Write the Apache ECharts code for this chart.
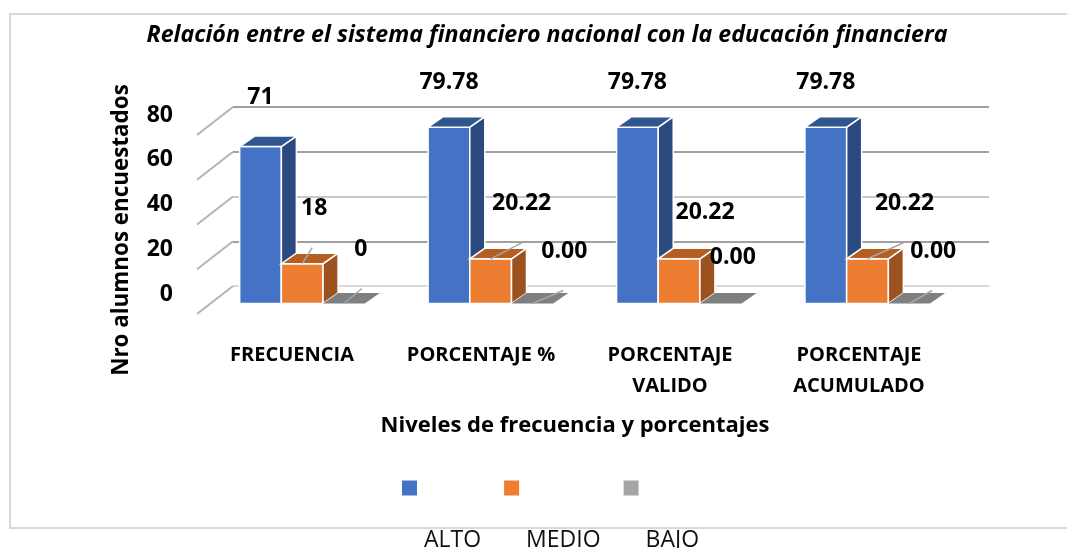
<!DOCTYPE html>
<html>
<head>
<meta charset="utf-8">
<style>html,body{margin:0;padding:0;background:#fff}#c{width:1067px;height:548px}</style>
<script src="https://cdn.jsdelivr.net/npm/echarts@6/dist/echarts.min.js"></script>
</head>
<body>
<div id="c"></div>
<script>
// ---- data ----
const categories = ['FRECUENCIA', 'PORCENTAJE %', 'PORCENTAJE\nVALIDO', 'PORCENTAJE\nACUMULADO'];
const alto = [71, 79.78, 79.78, 79.78];
const medio = [18, 20.22, 20.22, 20.22];
const bajo = [0, 0, 0, 0];
const yTicks = [0, 20, 40, 60, 80];
const seriesNames = ['ALTO', 'MEDIO', 'BAJO'];
const titleText = 'Relación entre el sistema financiero nacional con la educación financiera';
const xName = 'Niveles de frecuencia y porcentajes';
const yName = 'Nro alumnos encuestados';

// ---- look ----
const FONT = '"Open Sans"';
const palette = [
  {front: '#4472c4', side: '#2a4a80', top: '#30568f'},
  {front: '#ed7d31', side: '#9c521f', top: '#b45e22'},
  {front: '#a5a5a5', side: '#7f7f7f', top: '#7f7f7f'}
];
const BAR_RATIO = 0.2206;
const WALL_DX = -36, WALL_DY = 28;
const FRONT_DX = -25, FRONT_DY = 17.5, FRONT_SCALE = 0.988, FRONT_X_SCALE = 0.997;
const SIDE_DX = 15, SIDE_DY = -10.5;
// label placement, pixels from each bar's front-top centre
const labelNudges = [
  [[0, -49], [0, -45], [0, -45], [0, -45]],
  [[12, -55], [31, -55], [26, -46], [37, -55]],
  [[17, -54], [32, -52], [12, -46], [24, -52]]
];
const leaderEnds = [
  [null, null, null, null],
  [[10, -16], [31, -16], null, [36, -16]],
  [[18, -15], [31, -13], null, [23, -13]]
];

function barRender(si) {
  return function (params, api) {
    const i = params.dataIndex;
    const v = api.value(1);
    const band = api.size([1, 0])[0];
    const w = band * BAR_RATIO;
    const top = api.coord([api.value(0), v]);
    const base = api.coord([api.value(0), 0]);
    const left = params.coordSys.x;
    const x0 = left + (base[0] - left) * FRONT_X_SCALE + FRONT_DX + (si - 1.5) * w;
    const x1 = x0 + w;
    const yb = base[1] + FRONT_DY;
    const yt = yb - (base[1] - top[1]) * FRONT_SCALE;
    const p = palette[si];
    const edge = {stroke: '#fff', lineWidth: 1.5};
    const children = [];
    const poly = (pts, fill, st) => ({type: 'polygon', shape: {points: pts}, style: Object.assign({fill}, st)});
    if (v > 0) {
      children.push(poly([[x0, yb], [x1, yb], [x1, yt], [x0, yt]], p.front, edge));
      children.push(poly([[x1, yb], [x1 + SIDE_DX, yb + SIDE_DY], [x1 + SIDE_DX, yt + SIDE_DY], [x1, yt]], p.side, edge));
      children.push(poly([[x0, yt], [x1, yt], [x1 + SIDE_DX, yt + SIDE_DY], [x0 + SIDE_DX, yt + SIDE_DY]], p.top, edge));
    } else {
      children.push(poly([[x0, yt], [x1, yt], [x1 + SIDE_DX, yt + SIDE_DY], [x0 + SIDE_DX, yt + SIDE_DY]], p.top, {}));
    }
    const ax = (x0 + x1) / 2;
    const end = leaderEnds[si][i];
    if (end) {
      children.push({type: 'line', shape: {x1: ax, y1: yt, x2: ax + end[0], y2: yt + end[1]},
        style: {stroke: '#a6a6a6', lineWidth: 1.5}});
    }
    const nudge = labelNudges[si][i];
    children.push({type: 'text', z2: 50, style: {
      x: ax + nudge[0], y: yt + nudge[1],
      text: i === 0 ? String(v) : v.toFixed(2),
      fill: '#000', align: 'center', verticalAlign: 'middle',
      font: 'bold 23px ' + FONT
    }});
    return {type: 'group', children};
  };
}

function wallRender(params, api) {
  const cs = params.coordSys;
  const y = api.coord([0, api.value(1)])[1];
  return {type: 'line',
    shape: {x1: cs.x, y1: y, x2: cs.x + WALL_DX, y2: y + WALL_DY},
    style: {stroke: '#b4b4b4', lineWidth: 2}};
}

const chart = echarts.init(document.getElementById('c'), null, {renderer: 'canvas'});
const toData = arr => arr.map((v, i) => [i, v]);
chart.setOption({
  animation: false,
  backgroundColor: '#fff',
  color: palette.map(p => p.front),
  title: {
    text: titleText, left: 542, top: 19, textAlign: 'center',
    textStyle: {fontFamily: FONT, fontSize: 23.2, fontWeight: 'bold', fontStyle: 'italic', color: '#000'}
  },
  graphic: [{type: 'rect', silent: true, z: -10,
    shape: {x: 10, y: 14, width: 1075, height: 514},
    style: {fill: 'none', stroke: '#d9d9d9', lineWidth: 2}}],
  legend: {
    left: 402, top: 423, orient: 'horizontal', itemWidth: 15, itemHeight: 15, itemGap: 23, padding: 0,
    selectedMode: false,
    data: seriesNames.map(n => ({name: n, icon: 'rect'})),
    formatter: n => '\n\n\n\n' + n,
    textStyle: {fontFamily: FONT, fontSize: 23, color: '#111', lineHeight: 26, padding: [0, 0, 0, 2]}
  },
  grid: {left: 233, top: 107, width: 756, height: 179, containLabel: false},
  xAxis: {
    type: 'category', data: categories,
    axisLine: {show: false}, axisTick: {show: false},
    axisLabel: {interval: 0, margin: 54, fontFamily: FONT, fontSize: 20, fontWeight: 'bold', color: '#000',
      lineHeight: 31, padding: [0, 71, 0, 0], verticalAlign: 'top'},
    name: xName, nameLocation: 'middle', nameGap: 129,
    nameTextStyle: {fontFamily: FONT, fontSize: 22, fontWeight: 'bold', color: '#000', padding: [0, 72, 0, 0]}
  },
  yAxis: {
    type: 'value', min: 0, max: 80, interval: 20,
    axisLine: {show: false}, axisTick: {show: false},
    axisLabel: {margin: 60, fontFamily: FONT, fontSize: 23, fontWeight: 'bold', color: '#000', lineHeight: 16, verticalAlign: 'top'},
    splitLine: {show: true, lineStyle: {width: 2, color: ['#d9d9d9', '#a0a0a0', '#c8c8c8', '#a0a0a0', '#a0a0a0']}},
    name: yName, nameLocation: 'middle', nameGap: 100, nameRotate: 90,
    nameTextStyle: {fontFamily: FONT, fontSize: 22.4, fontWeight: 'bold', color: '#000', padding: [0, 67, 0, 0]}
  },
  series: [
    {type: 'custom', name: 'wall', silent: true, z: 1, renderItem: wallRender,
      encode: {x: 0, y: 1}, data: yTicks.map(t => [0, t])},
    {type: 'custom', name: seriesNames[0], z: 2, renderItem: barRender(0), encode: {x: 0, y: 1}, data: toData(alto), itemStyle: {color: palette[0].front}},
    {type: 'custom', name: seriesNames[1], z: 3, renderItem: barRender(1), encode: {x: 0, y: 1}, data: toData(medio), itemStyle: {color: palette[1].front}},
    {type: 'custom', name: seriesNames[2], z: 4, renderItem: barRender(2), encode: {x: 0, y: 1}, data: toData(bajo), itemStyle: {color: palette[2].front}}
  ]
});
</script>
</body>
</html>
